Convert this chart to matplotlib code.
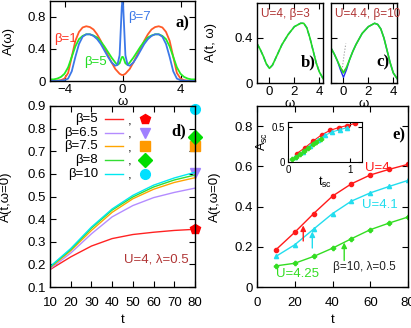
import numpy as np
import matplotlib
matplotlib.use("Agg")
import matplotlib.pyplot as plt

plt.rcParams['font.family'] = ['Liberation Sans', 'DejaVu Sans']
plt.rcParams['mathtext.fontset'] = 'custom'
plt.rcParams['mathtext.rm'] = 'Liberation Sans'
plt.rcParams['mathtext.it'] = 'Liberation Sans'
plt.rcParams['font.size'] = 9.5

# ---- panel a: A(w) for several beta
w_a = [-5, -4.75, -4.5, -4.25, -4, -3.75, -3.5, -3.25, -3, -2.75, -2.5, -2.25, -2, -1.75,
       -1.5, -1.25, -1, -0.75, -0.5, -0.35, -0.2, -0.1, -0.05, 0, 0.05, 0.1, 0.2, 0.35, 0.5,
       0.75, 1, 1.25, 1.5, 1.75, 2, 2.25, 2.5, 2.75, 3, 3.25, 3.5, 3.75, 4, 4.25, 4.5, 4.75, 5]
A_b1 = [0.0, 0.0, 0.005, 0.01, 0.03, 0.1, 0.3, 0.5, 0.61, 0.665, 0.68, 0.67, 0.64, 0.58,
        0.5, 0.41, 0.32, 0.23, 0.15, 0.12, 0.09, 0.08, 0.075, 0.075, 0.075, 0.08, 0.09, 0.12,
        0.15, 0.23, 0.32, 0.41, 0.5, 0.58, 0.64, 0.67, 0.68, 0.665, 0.61, 0.5, 0.3, 0.1,
        0.03, 0.01, 0.005, 0.0, 0.0]
A_b5 = [0.02, 0.02, 0.03, 0.05, 0.09, 0.17, 0.3, 0.43, 0.52, 0.56, 0.58, 0.58, 0.565, 0.54,
        0.49, 0.43, 0.36, 0.29, 0.23, 0.2, 0.22, 0.27, 0.295, 0.3, 0.295, 0.27, 0.22, 0.2,
        0.23, 0.29, 0.36, 0.43, 0.49, 0.54, 0.565, 0.58, 0.58, 0.56, 0.52, 0.43, 0.3, 0.17,
        0.09, 0.05, 0.03, 0.02, 0.02]
A_b7 = [0.0, 0.0, 0.0, 0.005, 0.01, 0.03, 0.12, 0.3, 0.46, 0.55, 0.58, 0.58, 0.56, 0.52,
        0.46, 0.38, 0.3, 0.23, 0.19, 0.2, 0.32, 0.72, 0.92, 1.0, 0.92, 0.72, 0.32, 0.2,
        0.19, 0.23, 0.3, 0.38, 0.46, 0.52, 0.56, 0.58, 0.58, 0.55, 0.46, 0.3, 0.12, 0.03,
        0.01, 0.005, 0.0, 0.0, 0.0]

# ---- panels b, c: A(t, w)
w_bc = [-1, -0.75, -0.5, -0.25, 0, 0.25, 0.5, 0.75, 1, 1.5, 2, 2.5, 2.75, 3, 3.25, 3.5, 3.75, 4, 4.3]
b_line = [0.35, 0.3, 0.24, 0.17, 0.13, 0.16, 0.22, 0.28, 0.34, 0.43, 0.5, 0.53, 0.53, 0.49,
          0.4, 0.29, 0.18, 0.1, 0.04]
c_line = [0.31, 0.26, 0.2, 0.14, 0.09, 0.14, 0.21, 0.28, 0.34, 0.44, 0.5, 0.53, 0.52, 0.48,
          0.4, 0.29, 0.18, 0.09, 0.04]
c_blue = [0.31, 0.26, 0.2, 0.12, 0.05, 0.12, 0.21, 0.28, 0.34, 0.44, 0.5, 0.53, 0.52, 0.48,
          0.4, 0.29, 0.18, 0.09, 0.04]
c_red_w = [-0.15, 0, 0.15]
c_red = [0.12, 0.095, 0.12]
c_dot_w = [-0.08, 0.05, 0.19]
c_dot = [0.14, 0.25, 0.35]

# ---- panel d: A(t, w=0) vs t
t_d = [10, 20, 30, 40, 50, 60, 70, 80]
betas = ['5', '6.5', '7.5', '8', '10']
d_curves = [
    [0.177, 0.233, 0.281, 0.314, 0.332, 0.342, 0.35, 0.355],
    [0.18, 0.25, 0.335, 0.41, 0.46, 0.495, 0.518, 0.537],
    [0.185, 0.26, 0.35, 0.43, 0.49, 0.532, 0.562, 0.583],
    [0.188, 0.265, 0.36, 0.44, 0.498, 0.542, 0.573, 0.595],
    [0.19, 0.27, 0.365, 0.445, 0.505, 0.55, 0.582, 0.607],
]
d_final = [0.355, 0.605, 0.723, 0.763, 0.885]
d_colors = ['#ff2222', '#b48cff', '#ffa500', '#33dd33', '#00e8f0']
d_mcolors = ['#ff0000', '#a080ff', '#ff9900', '#00dd00', '#00e0ff']
d_markers = ['p', 'v', 's', 'D', 'o']

# ---- panel e
t_e = [10, 20, 30, 40, 50, 60, 70, 80]
e_U = ['U=4', 'U=4.1', 'U=4.25']
e_vals = [
    [0.185, 0.272, 0.365, 0.452, 0.513, 0.557, 0.585, 0.61],
    [0.152, 0.21, 0.288, 0.365, 0.427, 0.468, 0.5, 0.53],
    [0.105, 0.118, 0.152, 0.193, 0.24, 0.285, 0.318, 0.348],
]
e_colors = ['#ff1a1a', '#22ddee', '#33dd22']
e_markers = ['o', '^', 'P']
arr_t = [24.5, 29.3, 46.2]
arr_y0 = [0.215, 0.18, 0.118]
arr_y1 = [0.32, 0.29, 0.235]

# inset: scaled data
tsc = [
    [0.14, 0.27, 0.41, 0.55, 0.68, 0.82, 0.96, 1.09],
    [0.12, 0.24, 0.36, 0.48, 0.6, 0.72, 0.84, 0.96],
    [0.07, 0.13, 0.2, 0.26, 0.33, 0.4, 0.46, 0.53],
]
Asc = [
    [0.12, 0.2, 0.3, 0.39, 0.45, 0.49, 0.52, 0.55],
    [0.07, 0.14, 0.23, 0.31, 0.38, 0.43, 0.46, 0.49],
    [0.04, 0.07, 0.11, 0.15, 0.2, 0.25, 0.29, 0.33],
]

brown = '#b03535'
W, H = 411, 328


def box(l, t, r, b):
    return [l / W, 1 - b / H, (r - l) / W, (b - t) / H]


def style(ax, xpad=2):
    ax.tick_params(direction='in', top=True, right=True, length=4, width=0.8, pad=3)
    ax.tick_params(axis='x', pad=xpad)
    for s in ax.spines.values():
        s.set_linewidth(1.0)


fig = plt.figure(figsize=(4.11, 3.28), dpi=100)

# panel a
ax = fig.add_axes(box(50, 0.5, 195, 81))
ax.plot(w_a, A_b1, color='#ff5a28', lw=1.3)
ax.plot(w_a, A_b5, color='#22ee22', lw=1.3)
ax.plot(w_a, A_b7, color='#3c78e8', lw=1.3)
ax.set_xlim(-5, 5)
ax.set_ylim(0, 1.0)
ax.set_xticks([-4, 0, 4])
ax.set_yticks([0, 0.4, 0.8])
ax.set_yticklabels(['0', '0.4', '0.8'])
style(ax)
ax.set_xlabel('ω', labelpad=0)
ax.xaxis.set_label_coords(0.5, -0.185)
ax.set_ylabel('A(ω)')
ax.yaxis.set_label_coords(-0.24, 0.5)
ax.text(-3.9, 0.52, 'β=1', color='#ff3322', ha='center', va='center')
ax.text(-1.9, 0.24, 'β=5', color='#22dd22', ha='center', va='center')
ax.text(1.2, 0.8, 'β=7', color='#3c78e8', ha='center', va='center')
ax.text(0.91, 0.72, 'a)', transform=ax.transAxes, fontsize=12, fontweight='bold',
        family='Liberation Serif', ha='center', va='center')

# panels b, c
for i, (l, r) in enumerate([(257, 323), (331, 397)]):
    ax = fig.add_axes(box(l, 3, r, 83))
    if i == 0:
        ax.plot(w_bc, b_line, color='#2244ee', lw=1.0, ls='--')
        ax.plot(w_bc, b_line, color='#22dd22', lw=1.2)
        lab = 'U=4, β=3'
        tag = 'b)'
    else:
        ax.plot(c_dot_w, c_dot, color='#999999', lw=0.8, ls=':')
        ax.plot(w_bc, c_blue, color='#2233ee', lw=1.0)
        ax.plot(c_red_w, c_red, color='#ff2222', lw=1.0)
        ax.plot(w_bc, c_line, color='#22dd22', lw=1.2)
        lab = 'U=4.4, β=10'
        tag = 'c)'
    ax.set_xlim(-1, 4.3)
    ax.set_ylim(0, 0.71)
    ax.set_xticks([0, 2, 4])
    ax.set_yticks([0, 0.4])
    ax.set_yticklabels(['0', '0.4'] if i == 0 else [])
    style(ax)
    ax.set_xlabel('ω')
    ax.xaxis.set_label_coords(0.5, -0.19)
    if i == 0:
        ax.set_ylabel('A(t, ω)')
        ax.yaxis.set_label_coords(-0.6, 0.5)
    ax.text(0.06, 0.86, lab, transform=ax.transAxes, color=brown, fontsize=8.5,
            ha='left', va='center')
    ax.text(0.78, 0.26, tag, transform=ax.transAxes, fontsize=12, fontweight='bold',
            family='Liberation Serif', ha='center', va='center')

# panel d
ax = fig.add_axes(box(50, 106, 195, 287))
for k in range(len(betas)):
    ax.plot(t_d, d_curves[k], color=d_colors[k], lw=1.0)
    ax.plot([80], [d_final[k]], marker=d_markers[k], color=d_mcolors[k], ms=7,
            ls='none', clip_on=False)
    yy = 0.927 - 0.075 * k
    ax.text(0.33, yy, 'β=' + betas[k], transform=ax.transAxes, ha='right', va='center')
    ax.plot([0.38, 0.50], [yy, yy], transform=ax.transAxes, color=d_colors[k], lw=1.0)
    ax.text(0.55, yy - 0.01, ',', transform=ax.transAxes, ha='center', va='center')
    ax.plot([0.655], [yy], transform=ax.transAxes, marker=d_markers[k],
            color=d_mcolors[k], ms=7, ls='none')
ax.set_xlim(10, 80)
ax.set_ylim(0.1, 0.9)
ax.set_xticks(range(10, 81, 10))
ax.set_yticks(np.arange(0.1, 0.91, 0.1))
ax.set_yticklabels(['0.1', '0.2', '0.3', '0.4', '0.5', '0.6', '0.7', '0.8', '0.9'])
style(ax, xpad=7)
ax.set_xlabel('t')
ax.xaxis.set_label_coords(0.5, -0.15)
ax.set_ylabel('A(t,ω=0)')
ax.yaxis.set_label_coords(-0.262, 0.5)
ax.text(0.89, 0.86, 'd)', transform=ax.transAxes, fontsize=12, fontweight='bold',
        family='Liberation Serif', ha='center', va='center')
ax.text(0.955, 0.15, 'U=4, λ=0.5', transform=ax.transAxes, color=brown,
        ha='right', va='center')

# panel e
ax = fig.add_axes(box(257, 106, 408, 287))
for k in range(3):
    ax.plot(t_e, e_vals[k], color=e_colors[k], lw=1.0, marker=e_markers[k], ms=3)
    ax.annotate('', xy=(arr_t[k], arr_y1[k]), xytext=(arr_t[k], arr_y0[k]),
                arrowprops=dict(arrowstyle='-|>', color=e_colors[k], lw=1.0,
                                mutation_scale=8))
ax.text(64, 0.59, e_U[0], color=e_colors[0], ha='center', va='center')
ax.text(65, 0.41, e_U[1], color=e_colors[1], ha='center', va='center')
ax.text(21.5, 0.065, e_U[2], color=e_colors[2], ha='center', va='center')
ax.text(57, 0.10, 'β=10, λ=0.5', color='#222222', ha='center', va='center', fontsize=8.5)
ax.set_xlim(0, 80)
ax.set_ylim(0, 0.9)
ax.set_xticks(range(0, 81, 20))
ax.set_yticks([0, 0.2, 0.4, 0.6, 0.8])
ax.set_yticklabels(['0', '0.2', '0.4', '0.6', '0.8'])
style(ax, xpad=7)
ax.set_xlabel('t')
ax.xaxis.set_label_coords(0.5, -0.15)
ax.set_ylabel('A(t,ω=0)')
ax.yaxis.set_label_coords(-0.24, 0.5)
ax.text(0.94, 0.84, 'e)', transform=ax.transAxes, fontsize=12, fontweight='bold',
        family='Liberation Serif', ha='center', va='center')

# inset
ins = fig.add_axes(box(288, 122, 362, 162))
for k in range(3):
    ins.plot(tsc[k], Asc[k], color=e_colors[k], lw=0.8, marker=e_markers[k], ms=3)
ins.set_xlim(0, 1.2)
ins.set_ylim(0, 0.57)
ins.set_xticks([0, 1])
ins.set_yticks([0, 0.5])
ins.set_yticklabels(['0', '0.5'])
ins.tick_params(direction='in', top=True, right=True, length=3, labelsize=7, pad=2)
ins.set_xlabel('t$_{sc}$', fontsize=9, labelpad=0)
ins.set_ylabel('A$_{sc}$', fontsize=9, labelpad=1)

fig.savefig('out.png', dpi=100)
